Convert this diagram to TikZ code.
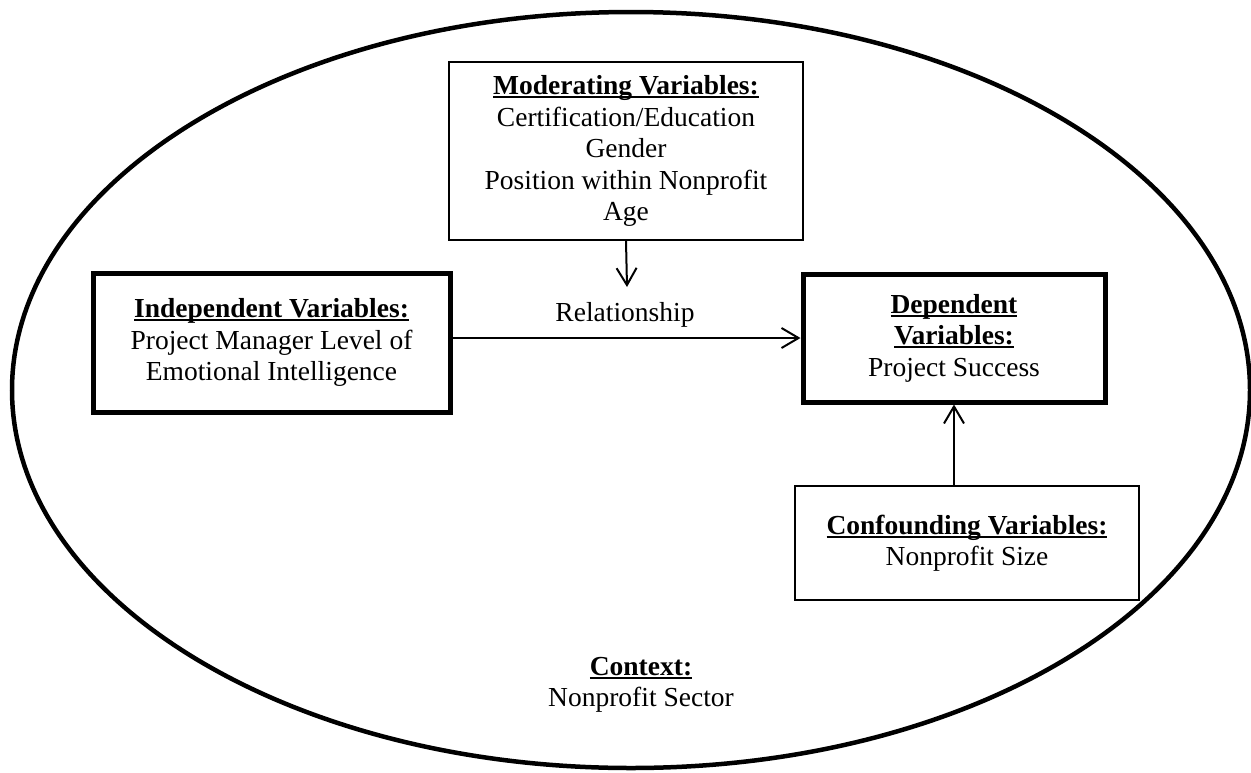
\documentclass[tikz,border=0pt]{standalone}
\usepackage{fontspec}
\setmainfont{Liberation Serif}
\usetikzlibrary{arrows.meta}

%% bold heading, underlined through the descenders
\newcommand{\ulhead}[1]{\setbox0\hbox{\bfseries #1}\rlap{\rule[-3.5pt]{\wd0}{2pt}}\box0}

\begin{document}
\begin{tikzpicture}[x=1pt,y=-1pt,
  txt/.style={align=center, inner sep=0pt, font=\fontsize{27.5}{31.5}\selectfont},
  thinbox/.style={txt, draw, line width=1.5pt},
  thickbox/.style={txt, draw, line width=5pt},
  arr/.style={-{Straight Barb[length=17pt,width=20pt]}, line width=2pt}]

\useasboundingbox (0,0) rectangle (1251,772);

%% context
\draw[line width=4.5pt] (631,390) ellipse [x radius=619pt, y radius=378pt];
\node[txt] (ctx) at (641,685) {\ulhead{Context:}\\Nonprofit Sector};

%% boxes
\node[thinbox, minimum width=354pt, minimum height=178pt] (mod) at (626,151)
  {\ulhead{Moderating Variables:}\\Certification/Education\\Gender\\Position within Nonprofit\\Age};   %% moderating
\node[thickbox, minimum width=357pt, minimum height=139pt] (ind) at (271.5,342.5)
  {\ulhead{Independent Variables:}\\Project Manager Level of\\Emotional Intelligence};   %% independent
\node[thickbox, minimum width=302pt, minimum height=128pt] (dep) at (954,338)
  {\ulhead{Dependent}\\\ulhead{Variables:}\\Project Success};   %% dependent
\node[thinbox, minimum width=344pt, minimum height=114pt] (conf) at (967,543)
  {\ulhead{Confounding Variables:}\\Nonprofit Size};   %% confounding

%% relationship label
\node[txt] (rel) at (625,315) {Relationship};

%% arrows
\coordinate (modtip) at (627,287);
\draw[arr] (mod.south) -- (modtip);   %% mod -> relationship
\draw[arr] (ind.east |- dep.west) -- (dep.west);   %% ind -> dep
\draw[arr] (conf.north -| dep.south) -- (dep.south);   %% conf -> dep
\end{tikzpicture}
\end{document}
